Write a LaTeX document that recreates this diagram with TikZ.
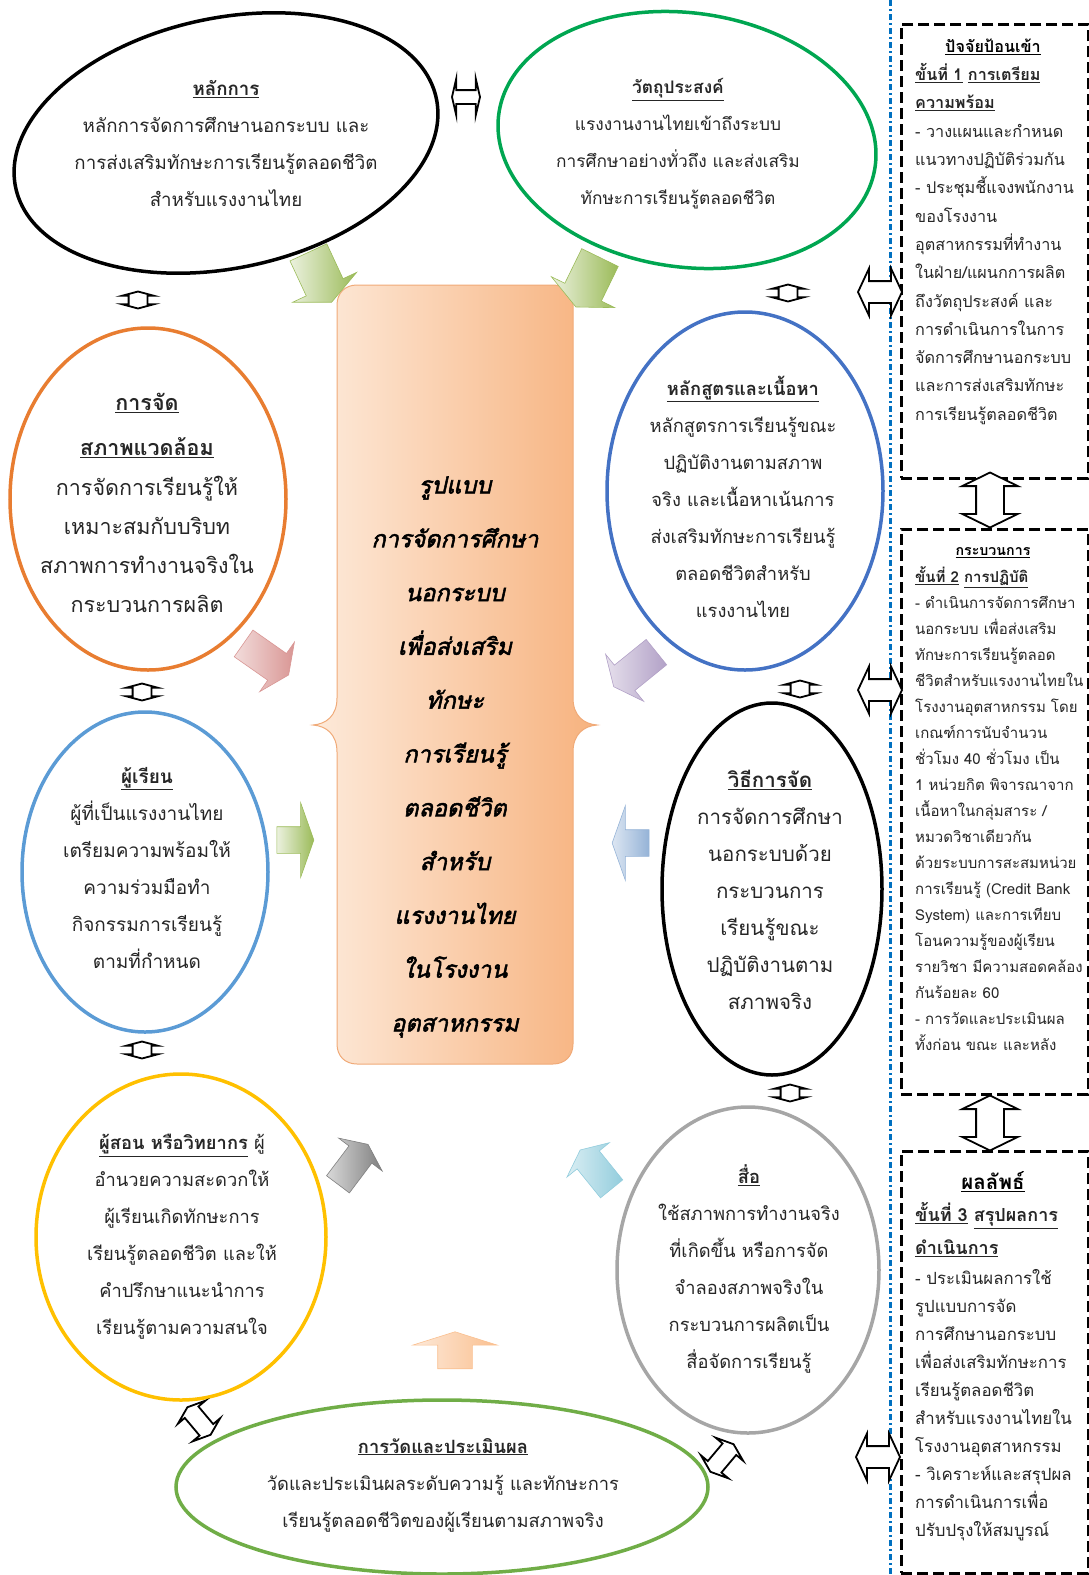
\documentclass[tikz,border=0pt]{standalone}
\usepackage{fontspec}
\setmainfont[Script=Thai]{Loma}
\newfontfamily\modelfont[Script=Thai, FakeSlant=0.22, FakeBold=2.2]{Loma}
\usetikzlibrary{shapes.geometric,shapes.arrows}

\definecolor{ink}{RGB}{38,38,38}
\definecolor{ringgreen}{RGB}{0,166,81}
\definecolor{ringorange}{RGB}{232,125,49}
\definecolor{ringnavy}{RGB}{68,114,196}
\definecolor{ringsky}{RGB}{91,155,213}
\definecolor{ringgold}{RGB}{255,192,0}
\definecolor{ringgray}{RGB}{166,166,166}
\definecolor{ringleaf}{RGB}{112,173,71}
\definecolor{divblue}{RGB}{0,112,192}
\definecolor{peachlo}{RGB}{253,234,218}
\definecolor{peachhi}{RGB}{247,178,126}
\definecolor{leafA}{RGB}{235,241,222}
\definecolor{leafB}{RGB}{155,187,89}
\definecolor{roseA}{RGB}{242,220,219}
\definecolor{roseB}{RGB}{217,150,148}
\definecolor{lilacA}{RGB}{230,224,236}
\definecolor{lilacB}{RGB}{178,161,199}
\definecolor{skyA}{RGB}{220,230,242}
\definecolor{skyB}{RGB}{149,179,215}
\definecolor{ashA}{RGB}{217,217,217}
\definecolor{ashB}{RGB}{127,127,127}
\definecolor{aquaA}{RGB}{218,238,243}
\definecolor{aquaB}{RGB}{147,205,221}
\definecolor{peachA}{RGB}{253,233,217}
\definecolor{peachB}{RGB}{250,192,144}

\tikzset{
  ring/.style={ellipse, draw=#1, line width=3.5pt, inner sep=0pt},
  says/.style={align=center, text=ink, inner sep=0pt, font=\fontsize{18.3}{37}\selectfont},
  stage/.style={draw, line width=2.6pt, dash pattern=on 11pt off 5pt, inner sep=0pt, anchor=north west},
  notes/.style={align=left, text=ink, inner sep=0pt, anchor=west, font=\fontsize{16.2}{28.3}\selectfont},
  swap/.style={double arrow, draw, fill=white, line width=1.8pt, inner xsep=0pt},
  tinyswap/.style={swap, rotate=90, minimum height=17, inner ysep=8.5, double arrow head extend=6.5, double arrow tip angle=150},
  sideswap/.style={swap, minimum height=44, inner ysep=10, double arrow head extend=12.5, double arrow tip angle=130},
  stepswap/.style={swap, rotate=90, minimum height=55, inner ysep=13, double arrow head extend=14, double arrow tip angle=128},
  push/.style 2 args={single arrow, draw=#2, line width=0.6pt, left color=#1, right color=#2, inner xsep=0pt},
  divide/.style={divblue, line width=3pt, dash pattern=on 6pt off 3pt on 2pt off 3pt}
}

\begin{document}
\begin{tikzpicture}[x=1pt,y=-1pt]
\useasboundingbox (0,0) rectangle (1089,1575);
%
\path[left color=peachlo, right color=peachhi, draw={rgb,255:red,240;green,170;blue,120}, line width=1pt]
  (357,285) -- (553,285) .. controls (565,285) and (573,293) .. (573,305)
  -- (573,698) .. controls (573,716) and (584,724) .. (597,725) .. controls (584,726) and (573,734) .. (573,752)
  -- (573,1044) .. controls (573,1056) and (565,1064) .. (553,1064)
  -- (357,1064) .. controls (345,1064) and (337,1056) .. (337,1044)
  -- (337,752) .. controls (337,734) and (326,726) .. (313,725) .. controls (326,724) and (337,716) .. (337,698)
  -- (337,305) .. controls (337,293) and (345,285) .. (357,285) -- cycle;
\node[align=center, inner sep=0pt, font=\modelfont\fontsize{23.5}{53.8}\selectfont] (mdl) at (455,757)
  {รูปแบบ\\การจัดการศึกษา\\นอกระบบ\\เพื่อส่งเสริม\\ทักษะ\\การเรียนรู้\\ตลอดชีวิต\\สำหรับ\\แรงงานไทย\\ในโรงงาน\\อุตสาหกรรม};
%
\node[ring=black, minimum width=430, minimum height=250, rotate=12] (princ) at (226,143) {};
\node[says, font=\fontsize{18.7}{37}\selectfont] (princtx) at (226,144) {\underline{\textbf{หลักการ}}\\หลักการจัดการศึกษานอกระบบ และ\\การส่งเสริมทักษะการเรียนรู้ตลอดชีวิต\\สำหรับแรงงานไทย};
%
\node[ring=ringgreen, minimum width=380, minimum height=254, rotate=-8] (aim) at (687,140) {};
\node[says, font=\fontsize{17.3}{37}\selectfont] (aimtx) at (678,144) {\underline{\textbf{วัตถุประสงค์}}\\แรงงานงานไทยเข้าถึงระบบ\\การศึกษาอย่างทั่วถึง และส่งเสริม\\ทักษะการเรียนรู้ตลอดชีวิต};
%
\node[ring=ringorange, minimum width=276, minimum height=342] (envr) at (148,499) {};
\node[says, font=\fontsize{21.5}{39}\selectfont] (envrtx) at (147,503) {\underline{\textbf{การจัด}}\\[6pt]\underline{\textbf{สภาพแวดล้อม}}\\[1pt]การจัดการเรียนรู้ให้\\เหมาะสมกับบริบท\\สภาพการทำงานจริงใน\\กระบวนการผลิต};
%
\node[ring=ringnavy, minimum width=276, minimum height=358] (crse) at (745,491) {};
\node[says] (crsetx) at (743,497) {\underline{\textbf{หลักสูตรและเนื้อหา}}\\หลักสูตรการเรียนรู้ขณะ\\ปฏิบัติงานตามสภาพ\\จริง และเนื้อหาเน้นการ\\ส่งเสริมทักษะการเรียนรู้\\ตลอดชีวิตสำหรับ\\แรงงานไทย};
%
\node[ring=ringsky, minimum width=246, minimum height=320] (lrnr) at (145,872) {};
\node[says, font=\fontsize{19}{37}\selectfont] (lrnrtx) at (147,868) {\underline{\textbf{ผู้เรียน}}\\ผู้ที่เป็นแรงงานไทย\\เตรียมความพร้อมให้\\ความร่วมมือทำ\\กิจกรรมการเรียนรู้\\ตามที่กำหนด};
%
\node[ring=black, minimum width=220, minimum height=372] (mthd) at (772,889) {};
\node[says, font=\fontsize{20.5}{37}\selectfont] (mthdtx) at (770,890) {\underline{\textbf{วิธีการจัด}}\\การจัดการศึกษา\\นอกระบบด้วย\\กระบวนการ\\เรียนรู้ขณะ\\ปฏิบัติงานตาม\\สภาพจริง};
%
\node[ring=ringgold, minimum width=290, minimum height=326] (tchr) at (181,1237) {};
\node[says] (tchrtx) at (182,1237) {\underline{\textbf{ผู้สอน หรือวิทยากร}} ผู้\\อำนวยความสะดวกให้\\ผู้เรียนเกิดทักษะการ\\เรียนรู้ตลอดชีวิต และให้\\คำปรึกษาแนะนำการ\\เรียนรู้ตามความสนใจ};
%
\node[ring=ringgray, minimum width=262, minimum height=326] (mdia) at (748,1270) {};
\node[says] (mdiatx) at (749,1269) {\underline{\textbf{สื่อ}}\\ใช้สภาพการทำงานจริง\\ที่เกิดขึ้น หรือการจัด\\จำลองสภาพจริงใน\\กระบวนการผลิตเป็น\\สื่อจัดการเรียนรู้};
%
\node[ring=ringleaf, minimum width=532, minimum height=174] (eval) at (442,1487) {};
\node[says] (evaltx) at (443,1485) {\underline{\textbf{การวัดและประเมินผล}}\\วัดและประเมินผลระดับความรู้ และทักษะการ\\เรียนรู้ตลอดชีวิตของผู้เรียนตามสภาพจริง};
%
% block arrows into the model
\node[push={leafA}{leafB}, rotate=-65, minimum height=55, inner ysep=20, single arrow head extend=15, single arrow tip angle=130] (gotl) at (318,273) {};
\node[push={leafA}{leafB}, rotate=-116, minimum height=55, inner ysep=20, single arrow head extend=15, single arrow tip angle=130] (gotr) at (590,278) {};
\node[push={roseA}{roseB}, rotate=-35, minimum height=55, inner ysep=16, single arrow head extend=14, single arrow tip angle=130] (goenv) at (263,657) {};
\node[push={lilacA}{lilacB}, rotate=-141, minimum height=55, inner ysep=16, single arrow head extend=14, single arrow tip angle=130] (gocrs) at (638,667) {};
\node[push={leafA}{leafB}, rotate=0, minimum height=37, inner ysep=13, single arrow head extend=24, single arrow tip angle=141] (golrn) at (293,840) {};
\node[push={skyA}{skyB}, rotate=180, minimum height=37, inner ysep=13, single arrow head extend=24, single arrow tip angle=141] (gomth) at (633,843) {};
\node[push={ashA}{ashB}, rotate=53, minimum height=50, inner ysep=14, single arrow head extend=13, single arrow tip angle=130] (gotch) at (351,1167) {};
\node[push={aquaA}{aquaB}, rotate=129, minimum height=50, inner ysep=14, single arrow head extend=13, single arrow tip angle=130] (gomed) at (598,1172) {};
\node[push={peachA}{peachB}, rotate=90, minimum height=37, inner ysep=17, single arrow head extend=25, single arrow tip angle=145] (goevl) at (455,1353) {};
%
% links between the parts
\node[swap, minimum height=28, inner ysep=6, double arrow head extend=11.5, double arrow tip angle=154] (swtop) at (466,97) {};
\node[tinyswap] (swl1) at (138,300) {};
\node[tinyswap] (swl2) at (142,692) {};
\node[tinyswap] (swl3) at (142,1050) {};
\node[tinyswap] (swr1) at (788,293) {};
\node[tinyswap] (swr2) at (800,689) {};
\node[tinyswap] (swr3) at (790,1093) {};
\node[swap, rotate=-50, minimum height=36, inner ysep=8, double arrow head extend=9, double arrow tip angle=140] (swbl) at (199,1421) {};
\node[swap, rotate=50, minimum height=36, inner ysep=8, double arrow head extend=9, double arrow tip angle=140] (swbr) at (722,1458) {};
%
% steps column
\coordinate (cuttop) at (890,0);
\coordinate (cutbot) at (890,1575);
\draw[divide] (cuttop) -- (cutbot);
\node[stage, minimum width=187, minimum height=454] (inbox) at (900,23) {};
\node[stage, minimum width=187, minimum height=565] (dobox) at (900,528) {};
\node[stage, minimum width=187, minimum height=422] (outbox) at (900,1150) {};
\node[sideswap] (swin) at (880,292) {};
\node[sideswap] (swdo) at (880,690) {};
\node[sideswap] (swout) at (878,1457) {};
\node[stepswap] (stp1) at (990,500) {};
\node[stepswap] (stp2) at (990,1123) {};
%
\node[inner sep=0pt, font=\fontsize{16.2}{28}\selectfont\bfseries] (inhead) at (993,47) {\underline{ปัจจัยป้อนเข้า}};
\node[notes] (intext) at (915,244) {\textbf{\underline{ขั้นที่ 1} \underline{การเตรียม}}\\\textbf{\underline{ความพร้อม}}\\- วางแผนและกำหนด\\แนวทางปฏิบัติร่วมกัน\\- ประชุมชี้แจงพนักงาน\\ของโรงงาน\\อุตสาหกรรมที่ทำงาน\\ในฝ่าย/แผนกการผลิต\\ถึงวัตถุประสงค์ และ\\การดำเนินการในการ\\จัดการศึกษานอกระบบ\\และการส่งเสริมทักษะ\\การเรียนรู้ตลอดชีวิต};
%
\node[inner sep=0pt, font=\fontsize{14.2}{26}\selectfont\bfseries] (dohead) at (993,553) {\underline{กระบวนการ}};
\node[notes, font=\fontsize{15}{26}\selectfont] (dotext) at (915,809) {{\fontsize{15}{26}\selectfont\bfseries\underline{ขั้นที่ 2} \underline{การปฏิบัติ}}\\- ดำเนินการจัดการศึกษา\\นอกระบบ เพื่อส่งเสริม\\ทักษะการเรียนรู้ตลอด\\ชีวิตสำหรับแรงงานไทยใน\\โรงงานอุตสาหกรรม โดย\\เกณฑ์การนับจำนวน\\ชั่วโมง 40 ชั่วโมง เป็น\\1 หน่วยกิต พิจารณาจาก\\เนื้อหาในกลุ่มสาระ /\\หมวดวิชาเดียวกัน\\ด้วยระบบการสะสมหน่วย\\การเรียนรู้ (Credit Bank\\System) และการเทียบ\\โอนความรู้ของผู้เรียน\\รายวิชา มีความสอดคล้อง\\กันร้อยละ 60\\- การวัดและประเมินผล\\ทั้งก่อน ขณะ และหลัง};
%
\node[inner sep=0pt, font=\fontsize{20.5}{30}\selectfont\bfseries] (outhead) at (993,1182) {\underline{ผลลัพธ์}};
\node[notes, font=\fontsize{16.8}{28}\selectfont] (outtext) at (915,1372) {{\fontsize{18}{30}\selectfont\bfseries\underline{ขั้นที่ 3} \underline{สรุปผลการ}}\\[5pt]{\fontsize{18}{30}\selectfont\bfseries\underline{ดำเนินการ}}\\[2pt]- ประเมินผลการใช้\\รูปแบบการจัด\\การศึกษานอกระบบ\\เพื่อส่งเสริมทักษะการ\\เรียนรู้ตลอดชีวิต\\สำหรับแรงงานไทยใน\\โรงงานอุตสาหกรรม\\- วิเคราะห์และสรุปผล\\การดำเนินการเพื่อ\\ปรับปรุงให้สมบูรณ์};
\end{tikzpicture}
\end{document}
